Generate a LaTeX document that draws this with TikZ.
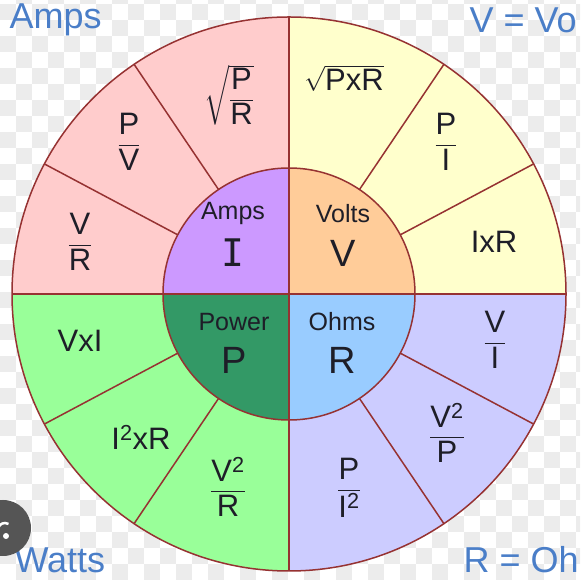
\documentclass[tikz,border=0pt]{standalone}
\usepackage{amsmath}
\usepackage{fontspec}
\setmainfont{Liberation Sans}
\newfontfamily\serifI{DejaVu Sans Mono}
\usetikzlibrary{calc}

\definecolor{edgec}{RGB}{150,50,50}
\definecolor{ink}{RGB}{30,30,40}
\definecolor{cornerblue}{RGB}{74,126,200}
\definecolor{checker}{RGB}{236,236,236}
\definecolor{pinkc}{HTML}{FFCCCC}
\definecolor{yelc}{HTML}{FFFFCC}
\definecolor{grnc}{HTML}{99FF99}
\definecolor{lavc}{HTML}{CCCCFF}
\definecolor{purpc}{HTML}{CC99FF}
\definecolor{peachc}{HTML}{FFCC99}
\definecolor{dgrnc}{HTML}{339966}
\definecolor{bluec}{HTML}{99CCFF}
\definecolor{iconc}{RGB}{85,85,85}

\tikzset{
  formula/.style={font=\fontsize{31}{33}\selectfont, text=ink},
  qty/.style={font=\fontsize{25}{27}\selectfont, text=ink},
  sym/.style={font=\fontsize{38}{40}\selectfont, text=ink},
  corner/.style={font=\fontsize{36}{38}\selectfont, text=cornerblue},
  wheel/.style={draw=edgec, line width=1.5pt}
}
\newcommand{\fr}[2]{$\dfrac{\text{#1}}{\text{#2}}$}

\begin{document}
\begin{tikzpicture}[x=1pt,y=1pt]
  \useasboundingbox (0,0) rectangle (580,580);
  \clip (0,0) rectangle (580,580);
  % background checkers
  \fill[white] (0,0) rectangle (580,580);
  \foreach \i in {0,...,36} \foreach \j in {0,...,36} {
    \ifodd\numexpr\i+\j\relax \fill[checker] (\i*16,\j*16) rectangle ++(16,16);\fi
  }

  \coordinate (O) at (289,286);
  \def\Ro{277}
  \def\Ri{126}
  \foreach \a/\c in {0/yelc,90/pinkc,180/grnc,270/lavc}
    \fill[\c] (O) -- ++(\a:\Ro) arc[start angle=\a, delta angle=90, radius=\Ro pt] -- cycle;
  \foreach \a/\c in {0/peachc,90/purpc,180/dgrnc,270/bluec}
    \fill[\c] (O) -- ++(\a:\Ri) arc[start angle=\a, delta angle=90, radius=\Ri pt] -- cycle;

  \draw[wheel] (O) circle[radius=\Ro pt];
  \draw[wheel] (O) circle[radius=\Ri pt];
  \draw[wheel] (O) ++(-\Ro,0) -- ++(2*\Ro,0);
  \draw[wheel] (O) ++(0,-\Ro) -- ++(0,2*\Ro);
  \foreach \a in {28,56,124,152,208,236,304,332}
    \draw[wheel] ($(O)+(\a:\Ri)$) -- ($(O)+(\a:\Ro)$);

  % amps
  \node[formula] (sqPR) at (229,485) {$\sqrt{\dfrac{\text{P}}{\text{R}}}$};
  \node[formula] (PV) at (129,438) {\fr{P}{V}};
  \node[formula] (VR) at (80,338) {\fr{V}{R}};
  \node[qty] (amps) at (233,366) {Amps};
  \node[sym] (symI) at (233,327) {\serifI I};
  % volts
  \node[formula] (sqPxR) at (344,502) {$\sqrt{\text{PxR}}$};
  \node[formula] (PI) at (446,438) {\fr{P}{I}};
  \node[formula] (IxR) at (494,338) {IxR};
  \node[qty] (volts) at (343,366) {Volts};
  \node[sym] (symV) at (343,327) {V};
  % power
  \node[formula] (VxI) at (80,239) {VxI};
  \node[formula] (IIxR) at (141,143) {I\textsuperscript{2}xR};
  \node[formula] (VVR) at (228,93) {\fr{V\textsuperscript{2}}{R}};
  \node[qty] (power) at (234,258) {Power};
  \node[sym] (symP) at (234,220) {P};
  % ohms
  \node[formula] (VI) at (495,240) {\fr{V}{I}};
  \node[formula] (VVP) at (447,147) {\fr{V\textsuperscript{2}}{P}};
  \node[formula] (PII) at (349,92) {\fr{P}{I\textsuperscript{2}}};
  \node[qty] (ohms) at (342,258) {Ohms};
  \node[sym] (symR) at (342,220) {R};

  \node[corner, anchor=west] (camps) at (6,560) {Amps};
  \node[corner, anchor=west] (cvolts) at (466,560) {V = Vo};
  \node[corner, anchor=west] (cwatts) at (11,20) {Watts};
  \node[corner, anchor=west] (cohms) at (460,20) {R = Oh};

  \fill[iconc] (3,52) circle[radius=28pt];
  \fill[white] (6,44) circle[radius=3pt];
  \draw[white, line width=2.5pt] (-2,50) arc[start angle=180, end angle=60, radius=7pt];
\end{tikzpicture}
\end{document}
